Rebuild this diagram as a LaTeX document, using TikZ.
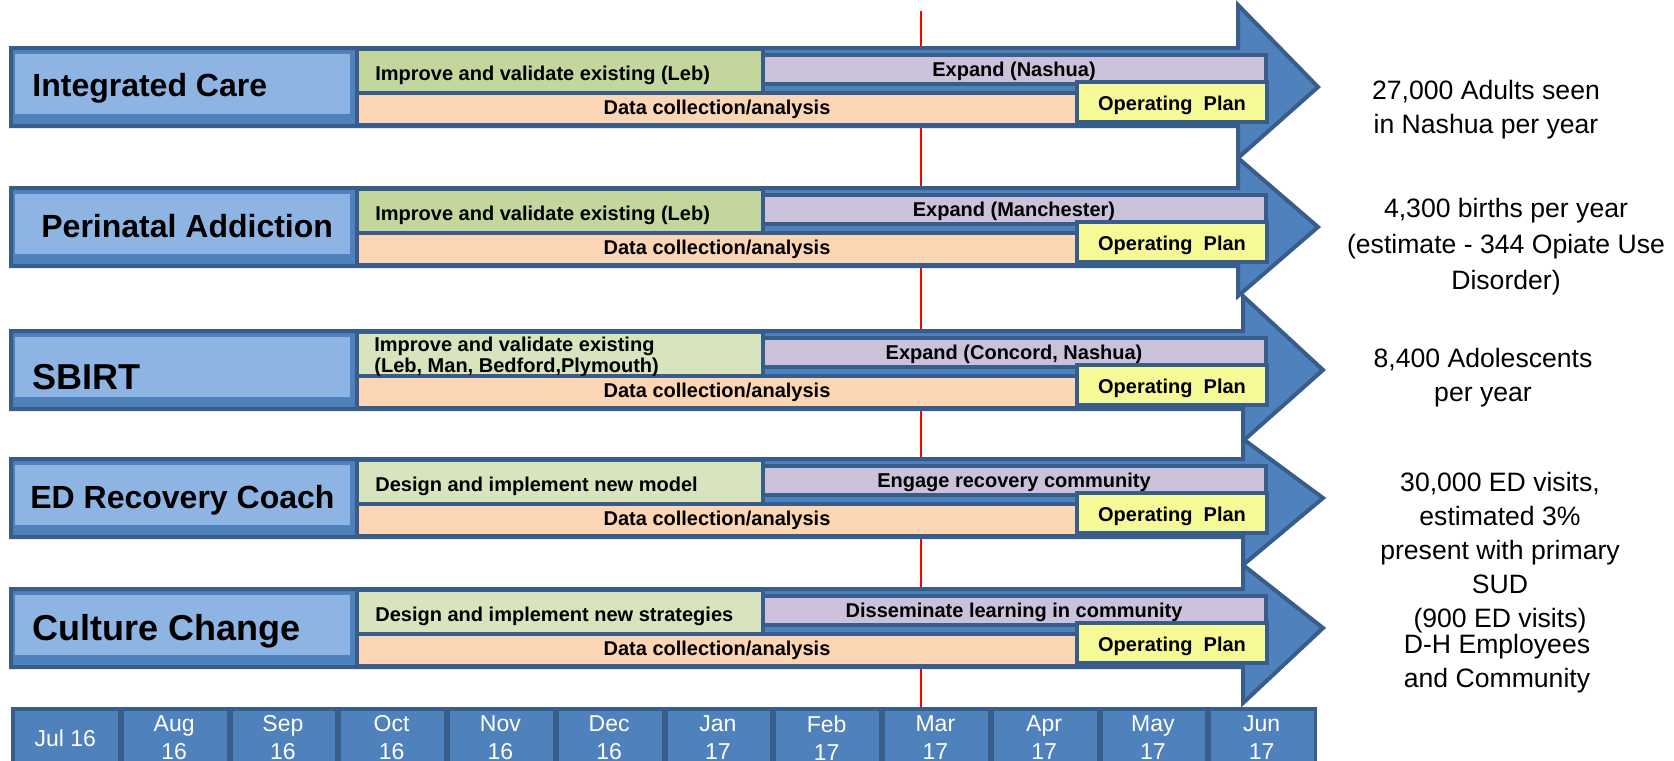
\documentclass[tikz,border=0pt]{standalone}
\usepackage{fontspec}
\setmainfont{Liberation Sans}
\definecolor{darkb}{HTML}{385D8A}
\definecolor{accent}{HTML}{4F81BD}
\definecolor{labelfill}{HTML}{8EB4E3}
\definecolor{greenA}{HTML}{C3D69B}
\definecolor{greenB}{HTML}{D7E4BD}
\definecolor{purplebar}{HTML}{CCC1DA}
\definecolor{orangebar}{HTML}{FCD5B5}
\definecolor{yellowbar}{HTML}{F5FA96}
\newcommand{\tlrow}[7]{%
  % #1 suffix, #2 top, #3 head top, #4 head bottom, #5 head base x, #6 green colour, #7 purple text
  \draw[arrowbody] (11,{#2+2}) -- (#5,{#2+2}) -- (#5,#3) -- ({#5+80},{#2+41}) -- (#5,#4) -- (#5,{#2+80}) -- (11,{#2+80}) -- cycle;
  \fill[labelfill] (15,{#2+8}) rectangle (350,{#2+68});
  \draw[barbox, fill=#6] (357,{#2+3}) rectangle (763,{#2+47});
  \draw[barbox, fill=orangebar] (357,{#2+47}) rectangle (1077,{#2+79});
  \draw[barbox, fill=purplebar] (763,{#2+9}) rectangle (1266,{#2+38});
  \node[bartext, anchor=base] (dc#1) at (717,{#2+68}) {Data collection/analysis};
  \node[bartext, anchor=base] (pt#1) at (1014,{#2+30}) {#7};
  \draw[barbox, fill=yellowbar] (1077,{#2+36}) rectangle (1267,{#2+76});
  \node[bartext, anchor=base] (op#1) at (1172,{#2+64}) {Operating~~Plan};
}
\begin{document}
\begin{tikzpicture}[x=0.5pt,y=-0.5pt,
  arrowbody/.style={fill=accent, draw=darkb, line width=2pt, line join=miter},
  barbox/.style={draw=darkb, line width=2pt},
  bartext/.style={font=\fontsize{10}{10.5}\selectfont\bfseries, inner sep=0pt, text=black},
  lblA/.style={font=\fontsize{16}{19}\selectfont\bfseries, inner sep=0pt, anchor=base west},
  lblB/.style={font=\fontsize{18}{21}\selectfont\bfseries, inner sep=0pt, anchor=base west},
  rtext/.style={font=\fontsize{13.3}{17}\selectfont, align=center, inner sep=0pt},
  mtext/.style={font=\fontsize{11.5}{14}\selectfont, align=center, inner sep=0pt, text=white},
  redline/.style={draw=red, line width=0.8pt}
]
\useasboundingbox (0,0) rectangle (1674,760);
\fill[white] (0,0) rectangle (1674,760);

% red "today" marker
\coordinate (rtop) at (921,11);
\coordinate (rbot) at (921,708);
\draw[redline] (rtop) -- (rbot);

% rows
\tlrow{1}{46}{5}{158}{1238}{greenA}{Expand (Nashua)}
\tlrow{2}{186}{158}{296}{1238}{greenA}{Expand (Manchester)}
\tlrow{3}{329}{296}{441}{1243}{greenB}{Expand (Concord, Nashua)}
\tlrow{4}{457}{439}{565}{1243}{greenB}{Engage recovery community}
\tlrow{5}{587}{565}{703}{1243}{greenB}{Disseminate learning in community}

% green bar texts
\node[bartext, anchor=base west] (gt1) at (375,80) {Improve and validate existing (Leb)};
\node[bartext, anchor=base west] (gt2) at (375,220) {Improve and validate existing (Leb)};
\node[bartext, anchor=west, align=left] (gt3) at (374,357) {Improve and validate existing\\(Leb, Man, Bedford,Plymouth)};
\node[bartext, anchor=base west] (gt4) at (375,491) {Design and implement new model};
\node[bartext, anchor=base west] (gt5) at (375,621) {Design and implement new strategies};

% row labels
\node[lblA] (l1) at (32,96) {Integrated Care};
\node[lblA] (l2) at (41,237) {Perinatal Addiction};
\node[lblB] (l3) at (32,389) {SBIRT};
\node[lblA] (l4) at (30,508) {ED Recovery Coach};
\node[lblB] (l5) at (32,640) {Culture Change};

% right-hand notes
\node[rtext] (r1) at (1486,110) {27,000 Adults seen\\in Nashua per year};
\node[rtext, font=\fontsize{13.3}{18}\selectfont] (r2) at (1506,247) {4,300 births per year\\(estimate - 344 Opiate Use\\Disorder)};
\node[rtext] (r3) at (1483,378) {8,400 Adolescents\\per year};
\node[rtext] (r4) at (1500,553) {30,000 ED visits,\\estimated 3\%\\present with primary\\SUD\\ (900 ED visits)};
\node[rtext] (r5) at (1497,664) {D-H Employees\\and Community};

% month bar
\fill[darkb] (11,707) rectangle (1317,775);
\foreach \m [count=\i from 0] in {{Jul 16},{Aug\\16},{Sep\\16},{Oct\\16},{Nov\\16},{Dec\\16},{Jan\\17},{Feb\\17},{Mar\\17},{Apr\\17},{May\\17},{Jun\\17}} {
  \fill[accent] ({11+\i*108.75+4},711) rectangle ({11+(\i+1)*108.75-2},775);
  \node[mtext] (m\i) at ({11+(\i+0.5)*108.75},738) {\m};
}
\end{tikzpicture}
\end{document}
